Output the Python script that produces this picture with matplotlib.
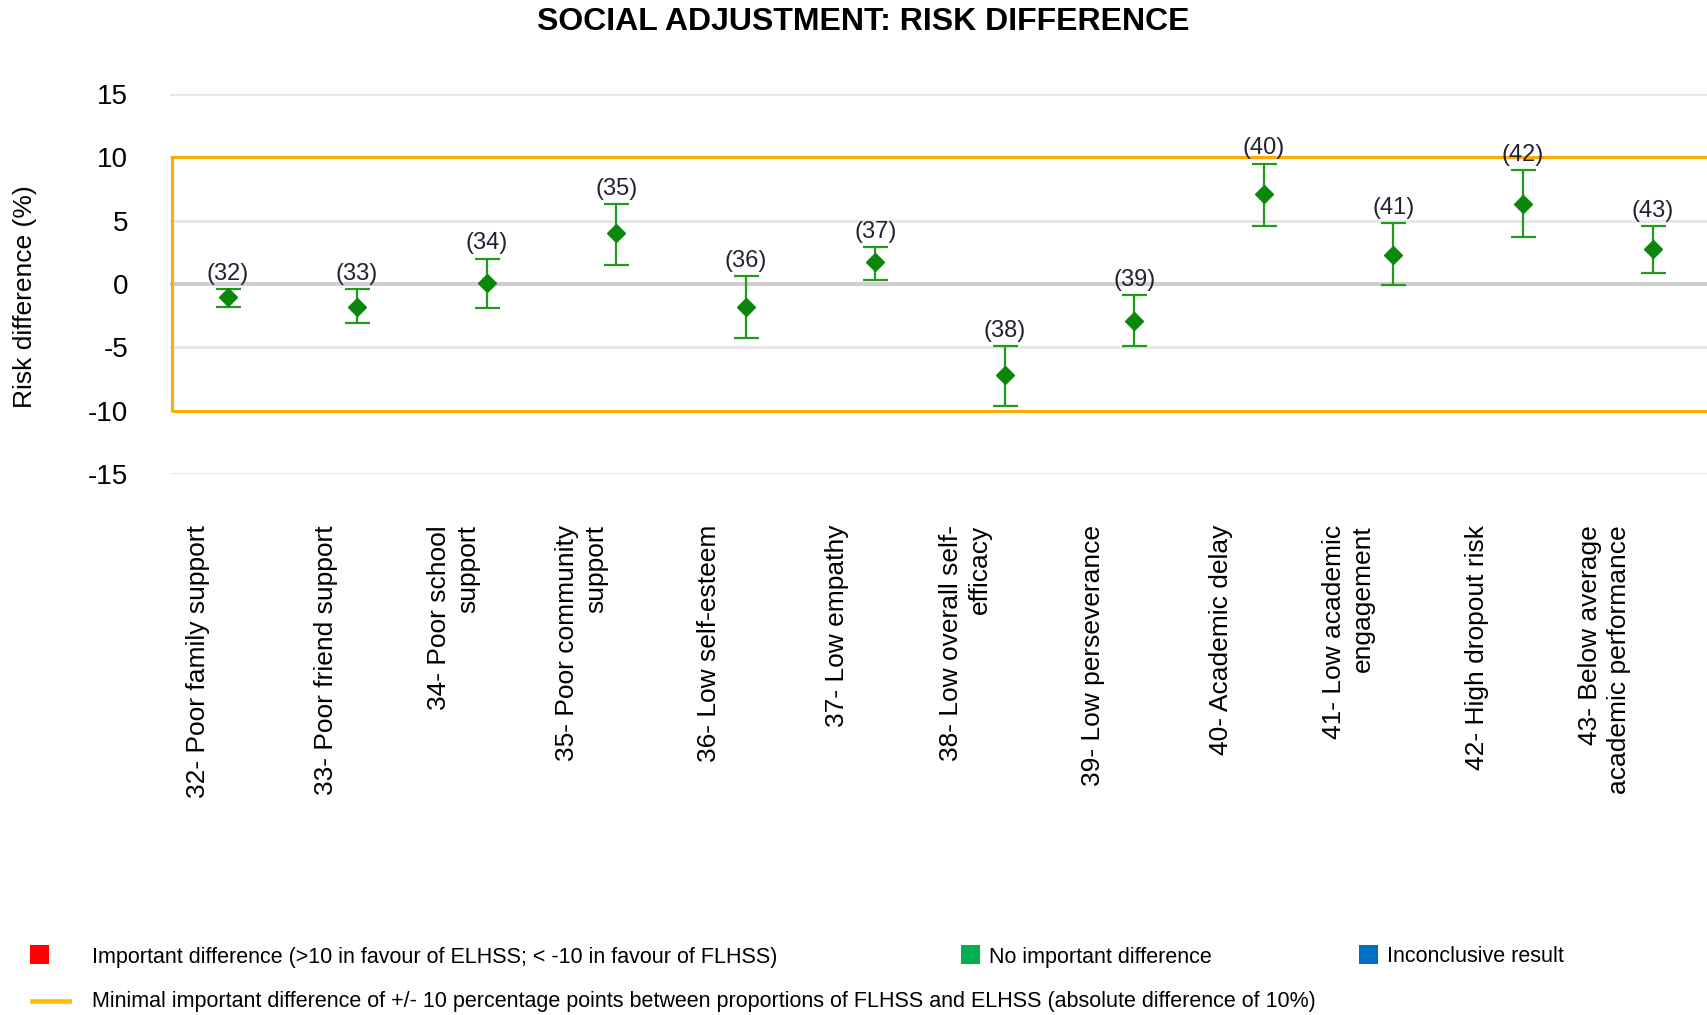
import numpy as np
import matplotlib
matplotlib.use("Agg")
import matplotlib.pyplot as plt
from matplotlib.patches import Rectangle
from matplotlib.lines import Line2D

plt.rcParams['font.family'] = ['Liberation Sans', 'DejaVu Sans']

# Indicators and their risk differences (%) with 95% CI
codes = ['32', '33', '34', '35', '36', '37', '38', '39', '40', '41', '42', '43']
labels = ['32- Poor family support',
          '33- Poor friend support',
          '34- Poor school\nsupport',
          '35- Poor community\nsupport',
          '36- Low self-esteem',
          '37- Low empathy',
          '38- Low overall self-\nefficacy',
          '39- Low perseverance',
          '40- Academic delay',
          '41- Low academic\nengagement',
          '42- High dropout risk',
          '43- Below average\nacademic performance']
estimate = [-1.0, -1.8, 0.1, 4.0, -1.8, 1.7, -7.2, -2.9, 7.1, 2.3, 6.3, 2.8]
ci_low = [-1.8, -3.1, -1.9, 1.5, -4.3, 0.3, -9.6, -4.9, 4.6, -0.1, 3.7, 0.9]
ci_high = [-0.4, -0.4, 2.0, 6.3, 0.6, 2.9, -4.9, -0.9, 9.5, 4.8, 9.0, 4.6]
yticks = [15, 10, 5, 0, -5, -10, -15]
mid = 10  # minimal important difference

W, H = 1707, 1015
fig = plt.figure(figsize=(W / 100, H / 100), dpi=100)
ax = fig.add_axes([170 / W, 1 - 474 / H, 1 - 170 / W, (474 - 94) / H])

x = np.arange(len(codes))
est = np.array(estimate)
err = np.vstack([est - np.array(ci_low), np.array(ci_high) - est])

# grid
for t in yticks:
    if t == 0:
        ax.axhline(t, color='#cfcfcf', lw=3, zorder=1)
    else:
        ax.axhline(t, color='#e6e6e6', lw=2, zorder=1)

# minimal important difference band
ax.add_patch(Rectangle((-0.43, -mid), 20, 2 * mid, fill=False,
                       edgecolor='#ffab00', lw=2.2, zorder=2, clip_on=False))

ax.errorbar(x, est, yerr=err, fmt='D', color='#0b870b', ecolor='#1f9b1f',
            elinewidth=1.6, capsize=9, capthick=1.6, markersize=9, zorder=3)

for xi, hi, c in zip(x, ci_high, codes):
    ax.annotate('(%s)' % c, (xi, hi), xytext=(0, 3), textcoords='offset points',
                ha='center', va='bottom', fontsize=17, color='#222233', zorder=4)

ax.set_xlim(-0.444, 11.42)
ax.set_ylim(-15, 15)
ax.set_yticks(yticks)
ax.set_yticklabels([str(t) for t in yticks], fontsize=20)
ax.tick_params(axis='y', length=0, pad=30)
ax.set_xticks([])
for s in ax.spines.values():
    s.set_visible(False)

ax.set_ylabel('Risk difference (%)', fontsize=19)
ax.yaxis.set_label_coords(-133 / (W - 170), 0.468)

# category labels, rotated
trans = ax.get_xaxis_transform()
for i, lab in enumerate(labels):
    ax.text(-0.228 + 0.987 * i, -51 / 380, lab, transform=trans, rotation=90,
            ha='center', va='top', multialignment='right', fontsize=19,
            linespacing=1.25)

fig.text(863 / W, 1 - 22 / H, 'SOCIAL ADJUSTMENT: RISK DIFFERENCE',
         ha='center', va='center', fontsize=23, fontweight='bold')

# legend
def square(x0, y0, color):
    fig.patches.append(Rectangle((x0 / W, 1 - (y0 + 19) / H), 19 / W, 19 / H,
                                 facecolor=color, edgecolor='none',
                                 transform=fig.transFigure))

square(30, 945, '#ff0000')
square(961, 945, '#00b050')
square(1359, 945, '#0070c0')
fig.lines.append(Line2D([32 / W, 69 / W], [1 - 1001 / H] * 2, color='#ffc000',
                        lw=3.4, transform=fig.transFigure))

fs = 15.5
fig.text(92 / W, 1 - 957 / H,
         'Important difference (>10 in favour of ELHSS; < -10 in favour of FLHSS)',
         va='center', fontsize=fs)
fig.text(989 / W, 1 - 957 / H, 'No important difference', va='center', fontsize=fs)
fig.text(1387 / W, 1 - 957 / H, 'Inconclusive result', va='center', fontsize=fs)
fig.text(92 / W, 1 - 1001 / H,
         'Minimal important difference of +/- 10 percentage points between '
         'proportions of FLHSS and ELHSS (absolute difference of 10%)',
         va='center', fontsize=fs)

fig.savefig('out.png', dpi=100)
